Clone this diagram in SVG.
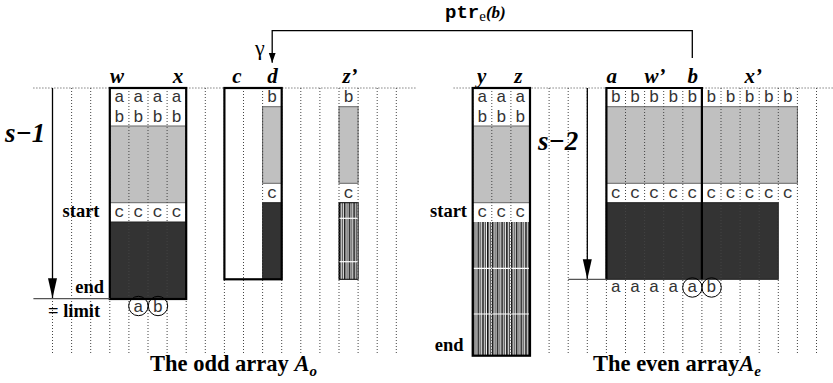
<svg xmlns="http://www.w3.org/2000/svg" width="833" height="383" viewBox="0 0 833 383">
<style>
.cell{font-family:"Liberation Mono","DejaVu Sans Mono",monospace;font-size:17px;fill:#333;text-anchor:middle}
.serif{font-family:"Liberation Serif","DejaVu Serif",serif}
.lab{font-family:"Liberation Serif","DejaVu Serif",serif;font-size:21px;font-weight:bold;font-style:italic;fill:#000;text-anchor:middle}
.side{font-family:"Liberation Serif","DejaVu Serif",serif;font-size:18.5px;font-weight:bold;fill:#000}
.big{font-family:"Liberation Serif","DejaVu Serif",serif;font-size:27px;font-weight:bold;font-style:italic;fill:#000}
.title{font-family:"Liberation Serif","DejaVu Serif",serif;font-size:22.5px;font-weight:bold;fill:#000}
.dot{stroke:#444;stroke-width:1;stroke-dasharray:1 2;fill:none}
.thick{stroke:#000;stroke-width:2.2;fill:none}
.gray{fill:#c0c0c0;stroke:#666;stroke-width:1}
.dark{fill:#333;stroke:#222;stroke-width:1}
.wline{stroke:#fff;stroke-width:1.2}
.conn{stroke:#000;stroke-width:1.3;fill:none}
.circ{fill:none;stroke:#000;stroke-width:1}
</style>
<defs>
<pattern id="hatch" patternUnits="userSpaceOnUse" x="0" y="0" width="4.775" height="10">
<rect width="4.775" height="10" fill="#fff"/>
<line x1="0.8" y1="0" x2="0.8" y2="10" stroke="#000" stroke-width="1.5"/>
<line x1="3.2" y1="0" x2="3.2" y2="10" stroke="#444" stroke-width="1.2"/>
</pattern>
<marker id="ah" viewBox="0 0 10 10" refX="10" refY="5" markerWidth="10" markerHeight="10" markerUnits="userSpaceOnUse" orient="auto">
<path d="M0,1.5 L10,5 L0,8.5 z" fill="#000"/>
</marker>
<marker id="ahbig" viewBox="0 0 20 10" refX="20" refY="5" markerWidth="20" markerHeight="10" markerUnits="userSpaceOnUse" orient="auto">
<path d="M0,0.5 L20,5 L0,9.5 z" fill="#000"/>
</marker>
</defs>
<rect width="833" height="383" fill="#fff"/>

<!-- fills -->
<g id="odd-wx-fill">
<rect x="109.8" y="88" width="76.4" height="211" fill="#fff"/>
<rect class="gray" x="109.8" y="126" width="76.4" height="76.7"/>
<rect class="dark" x="109.8" y="222" width="76.4" height="77"/>
</g>
<g id="odd-cd-fill">
<rect x="224.4" y="88" width="57.3" height="191.3" fill="#fff"/>
<rect class="gray" x="262.6" y="106.7" width="19.1" height="76.6"/>
<rect class="dark" x="262.6" y="202.7" width="19.1" height="76.6"/>
</g>
<g id="odd-z-fill">
<rect class="gray" x="339" y="106.7" width="19.1" height="76.6"/>
<rect x="339" y="202.7" width="19.1" height="76.6" fill="url(#hatch)" stroke="#000" stroke-width="1"/>
<line class="wline" x1="339.5" y1="218.3" x2="357.6" y2="218.3"/>
<line class="wline" x1="339.5" y1="261.7" x2="357.6" y2="261.7"/>
</g>
<g id="even-yz-fill">
<rect x="472.7" y="88" width="57.3" height="267.7" fill="#fff"/>
<rect class="gray" x="472.7" y="126" width="57.3" height="76.7"/>
<rect x="472.7" y="222" width="57.3" height="133.7" fill="url(#hatch)"/>
<line class="wline" x1="473" y1="268.3" x2="529.7" y2="268.3"/>
<line class="wline" x1="473" y1="314" x2="529.7" y2="314"/>
</g>
<g id="even-ab-fill">
<rect class="gray" x="606.4" y="106.7" width="191" height="76.6"/>
<rect class="dark" x="606.4" y="202.7" width="171.9" height="76.6"/>
</g>

<!-- dotted grid -->
<g id="grid">
<path class="dot" d="M33.4,88H415.4 M453.6,88H833"/>
<path class="dot" d="M52.5,88V353 M71.6,88V353 M90.7,88V353 M109.8,88V353 M128.9,88V353 M148,88V353 M167.1,88V353 M186.2,88V353 M205.3,88V353 M224.4,88V353 M243.5,88V353 M262.6,88V353 M281.7,88V353 M300.8,88V353 M319.9,88V353 M339,88V353 M358.1,88V353 M377.2,88V353 M396.3,88V353"/>
<path class="dot" d="M472.7,88V353 M491.8,88V353 M510.9,88V353 M530,88V353 M549.1,88V353 M568.2,88V353 M587.3,88V353 M606.4,88V353 M625.5,88V353 M644.6,88V353 M663.7,88V353 M682.8,88V353 M701.9,88V353 M721,88V353 M740.1,88V353 M759.2,88V353 M778.3,88V353 M797.4,88V353 M816.5,88V353"/>
</g>

<!-- nodes -->
<g id="odd-wx">
<rect class="thick" x="109.8" y="88" width="76.4" height="211"/>
<text class="lab" x="117" y="83">w</text>
<text class="lab" x="178" y="83">x</text>
<text class="cell" x="119.35" y="101.7">a</text><text class="cell" x="138.45" y="101.7">a</text><text class="cell" x="157.55" y="101.7">a</text><text class="cell" x="176.65" y="101.7">a</text>
<text class="cell" x="119.35" y="121.7">b</text><text class="cell" x="138.45" y="121.7">b</text><text class="cell" x="157.55" y="121.7">b</text><text class="cell" x="176.65" y="121.7">b</text>
<text class="cell" x="119.35" y="217">c</text><text class="cell" x="138.45" y="217">c</text><text class="cell" x="157.55" y="217">c</text><text class="cell" x="176.65" y="217">c</text>
<circle class="circ" cx="138.4" cy="306" r="9.7"/>
<circle class="circ" cx="158" cy="306" r="9.7"/>
<text class="cell" x="138.45" y="311.5">a</text>
<text class="cell" x="157.8" y="311.5">b</text>
</g>
<g id="odd-cd">
<rect class="thick" x="224.4" y="88" width="57.3" height="191.3"/>
<text class="lab" x="237" y="83">c</text>
<text class="lab" x="272.5" y="83">d</text>
<text class="cell" x="272.15" y="101.7">b</text>
<text class="cell" x="272.15" y="198">c</text>
</g>
<g id="odd-z">
<text class="lab" x="350" y="83">z’</text>
<text class="cell" x="348.55" y="101.7">b</text>
<text class="cell" x="348.55" y="198">c</text>
</g>
<g id="even-yz">
<rect class="thick" x="472.7" y="88" width="57.3" height="267.7"/>
<text class="lab" x="481.7" y="83">y</text>
<text class="lab" x="518.3" y="83">z</text>
<text class="cell" x="482.25" y="101.7">a</text><text class="cell" x="501.35" y="101.7">a</text><text class="cell" x="520.45" y="101.7">a</text>
<text class="cell" x="482.25" y="121.7">b</text><text class="cell" x="501.35" y="121.7">b</text><text class="cell" x="520.45" y="121.7">b</text>
<text class="cell" x="482.25" y="217">c</text><text class="cell" x="501.35" y="217">c</text><text class="cell" x="520.45" y="217">c</text>
</g>
<g id="even-ab">
<path class="thick" d="M606.4,279.3V88H701.9V279.3"/>
<text class="lab" x="611.7" y="83">a</text>
<text class="lab" x="655" y="83">w’</text>
<text class="lab" x="692.7" y="83">b</text>
<text class="lab" x="753.3" y="83">x’</text>
<text class="cell" x="615.95" y="101.7">b</text><text class="cell" x="635.05" y="101.7">b</text><text class="cell" x="654.15" y="101.7">b</text><text class="cell" x="673.25" y="101.7">b</text><text class="cell" x="692.35" y="101.7">b</text><text class="cell" x="711.45" y="101.7">b</text><text class="cell" x="730.55" y="101.7">b</text><text class="cell" x="749.65" y="101.7">b</text><text class="cell" x="768.75" y="101.7">b</text><text class="cell" x="787.85" y="101.7">b</text>
<text class="cell" x="615.95" y="197.5">c</text><text class="cell" x="635.05" y="197.5">c</text><text class="cell" x="654.15" y="197.5">c</text><text class="cell" x="673.25" y="197.5">c</text><text class="cell" x="692.35" y="197.5">c</text><text class="cell" x="711.45" y="197.5">c</text><text class="cell" x="730.55" y="197.5">c</text><text class="cell" x="749.65" y="197.5">c</text><text class="cell" x="768.75" y="197.5">c</text><text class="cell" x="787.85" y="197.5">c</text>
<text class="cell" x="615.95" y="292">a</text><text class="cell" x="635.05" y="292">a</text><text class="cell" x="654.15" y="292">a</text><text class="cell" x="673.25" y="292">a</text>
<circle class="circ" cx="692.35" cy="287.5" r="9.7"/>
<circle class="circ" cx="711.6" cy="287.5" r="9.7"/>
<text class="cell" x="692.35" y="292">a</text>
<text class="cell" x="711.45" y="292">b</text>
</g>

<!-- side labels -->
<g id="labels">
<text class="big" x="5" y="141.7">s−1</text>
<text class="big" x="538" y="150">s−2</text>
<text class="side" x="99.5" y="216.5" text-anchor="end">start</text>
<text class="side" x="104" y="293" text-anchor="end">end</text>
<text class="side" x="48" y="317.3">= limit</text>
<text class="side" x="467" y="216.7" text-anchor="end">start</text>
<text class="side" x="463.5" y="350.7" text-anchor="end">end</text>
<text class="title" x="150" y="370.5">The odd array <tspan font-style="italic">A</tspan><tspan font-style="italic" font-size="15" dy="5">o</tspan></text>
<text class="title" x="593" y="370.5">The even array<tspan font-style="italic">A</tspan><tspan font-style="italic" font-size="15" dy="5">e</tspan></text>
<text x="445" y="18" font-family="'Liberation Mono','DejaVu Sans Mono',monospace" font-weight="bold" font-size="19">ptr<tspan class="serif" font-weight="normal" font-size="15" dy="2.5">e</tspan><tspan class="serif" font-style="italic" font-size="17" dy="-2.5">(b)</tspan></text>
<text class="serif" x="255" y="55" font-size="22">γ</text>
</g>

<!-- connectors -->
<g id="connectors">
<path class="conn" d="M692.3,58V30.7H272.2V62.7" marker-end="url(#ah)"/>
<path class="conn" d="M52.5,88V298.3" marker-end="url(#ahbig)"/>
<path class="conn" d="M587.3,88V279.3" marker-end="url(#ahbig)"/>
<line x1="33.4" y1="298.6" x2="109.8" y2="298.6" stroke="#555" stroke-width="1.2"/>
<line x1="568.2" y1="279.3" x2="606.4" y2="279.3" stroke="#555" stroke-width="1.2"/>
</g>
</svg>
